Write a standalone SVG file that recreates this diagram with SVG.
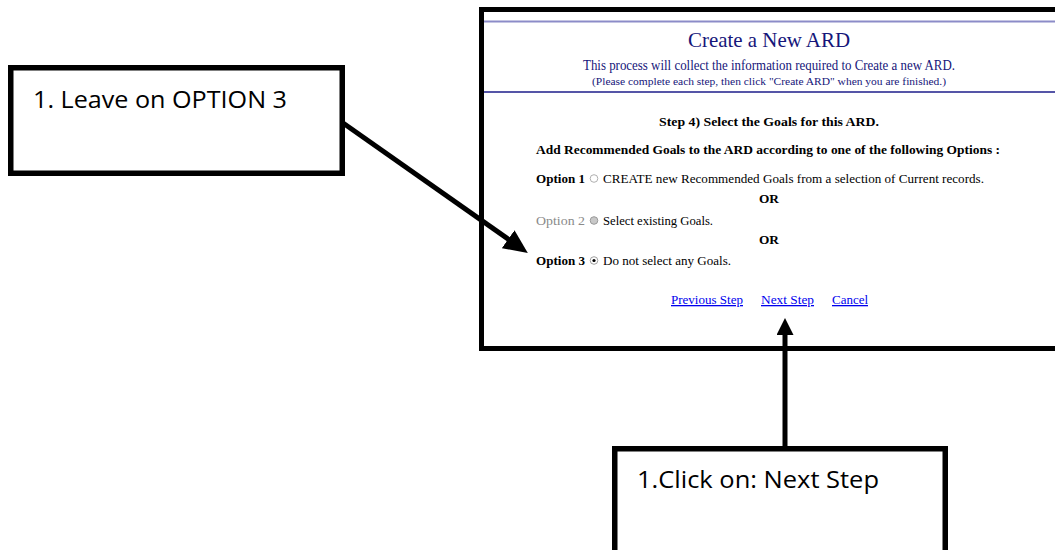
<svg xmlns="http://www.w3.org/2000/svg" width="1055" height="550" viewBox="0 0 1055 550">
  <style>
    .serif { font-family: "Liberation Serif", "Times New Roman", serif; }
    .head { fill: #16167a; }
    .bold { font-weight: bold; fill: #000; }
    .plain { fill: #000; }
    .dim { fill: #8a8a8a; }
    .link { fill: #0000ee; text-decoration: underline; }
    .note { font-family: "Open Sans", "Noto Sans", "Liberation Sans", sans-serif; font-size: 24px; fill: #000; }
    .box { fill: #fff; stroke: #000; stroke-width: 5.5; }
    .conn { stroke: #000; stroke-width: 5; fill: none; }
  </style>
  <defs>
    <marker id="head" markerUnits="userSpaceOnUse" markerWidth="24" markerHeight="22" viewBox="0 0 24 22" refX="1" refY="11" orient="auto">
      <path d="M0,0 L24,11 L0,22 Z" fill="#000"/>
    </marker>
    <marker id="head2" markerUnits="userSpaceOnUse" markerWidth="17" markerHeight="17" viewBox="0 0 17 17" refX="1" refY="8.5" orient="auto">
      <path d="M0,0 L17,8.5 L0,17 Z" fill="#000"/>
    </marker>
  </defs>
  <rect width="1055" height="550" fill="#fff"/>

  <g id="screenshot" class="serif">
    <rect x="481.5" y="9.5" width="600" height="339" fill="#fff" stroke="#000" stroke-width="5"/>
    <line x1="484" y1="21.5" x2="1055" y2="21.5" stroke="#8c8cc8" stroke-width="2"/>
    <text class="head" x="688" y="47" font-size="21" textLength="162" lengthAdjust="spacingAndGlyphs">Create a New ARD</text>
    <text class="head" x="583" y="70" font-size="14" textLength="372" lengthAdjust="spacingAndGlyphs">This process will collect the information required to Create a new ARD.</text>
    <text class="head" x="592" y="85" font-size="11" textLength="354" lengthAdjust="spacingAndGlyphs">(Please complete each step, then click "Create ARD" when you are finished.)</text>
    <line x1="484" y1="92" x2="1055" y2="92" stroke="#1c1c8a" stroke-width="1.5"/>

    <text class="bold" x="659" y="126" font-size="13" textLength="220" lengthAdjust="spacingAndGlyphs">Step 4) Select the Goals for this ARD.</text>
    <text class="bold" x="536" y="154" font-size="13.5" textLength="464" lengthAdjust="spacingAndGlyphs">Add Recommended Goals to the ARD according to one of the following Options :</text>

    <text class="bold" x="536" y="183" font-size="13" textLength="49" lengthAdjust="spacingAndGlyphs">Option 1</text>
    <circle cx="594" cy="178.5" r="3.8" fill="#fff" stroke="#b0b0b0" stroke-width="1"/>
    <text class="plain" x="603" y="183" font-size="13" textLength="381" lengthAdjust="spacingAndGlyphs">CREATE new Recommended Goals from a selection of Current records.</text>

    <text class="bold" x="759" y="203" font-size="13" textLength="20" lengthAdjust="spacingAndGlyphs">OR</text>

    <text class="dim" x="536" y="225" font-size="13" textLength="49" lengthAdjust="spacingAndGlyphs">Option 2</text>
    <circle cx="594" cy="220.5" r="3.8" fill="#c8c8c8" stroke="#9a9a9a" stroke-width="1"/>
    <text class="plain" x="603" y="225" font-size="13" textLength="110" lengthAdjust="spacingAndGlyphs">Select existing Goals.</text>

    <text class="bold" x="759" y="244" font-size="13" textLength="20" lengthAdjust="spacingAndGlyphs">OR</text>

    <text class="bold" x="536" y="265" font-size="13" textLength="49" lengthAdjust="spacingAndGlyphs">Option 3</text>
    <circle cx="594" cy="260.5" r="3.8" fill="#fff" stroke="#a0a0a0" stroke-width="1"/>
    <circle cx="594" cy="260.5" r="1.6" fill="#000"/>
    <text class="plain" x="603" y="265" font-size="13" textLength="128" lengthAdjust="spacingAndGlyphs">Do not select any Goals.</text>

    <text class="link" x="671" y="304" font-size="13" textLength="72" lengthAdjust="spacingAndGlyphs">Previous Step</text>
    <text class="link" x="761" y="304" font-size="13" textLength="53" lengthAdjust="spacingAndGlyphs">Next Step</text>
    <text class="link" x="832" y="304" font-size="13" textLength="36" lengthAdjust="spacingAndGlyphs">Cancel</text>
  </g>

  <g id="note-option3">
    <rect class="box" x="10.75" y="67.75" width="331.5" height="105.5"/>
    <text class="note" x="33" y="108" textLength="254" lengthAdjust="spacingAndGlyphs">1. Leave on OPTION 3</text>
  </g>

  <g id="note-next-step">
    <rect class="box" x="614.75" y="448.75" width="330.5" height="130"/>
    <text class="note" x="637" y="488" textLength="242" lengthAdjust="spacingAndGlyphs">1.Click on: Next Step</text>
  </g>

  <g id="connectors">
    <line class="conn" x1="343" y1="123" x2="509" y2="239.7" marker-end="url(#head)"/>
    <line class="conn" x1="785" y1="446" x2="785" y2="334" marker-end="url(#head2)"/>
  </g>
</svg>
